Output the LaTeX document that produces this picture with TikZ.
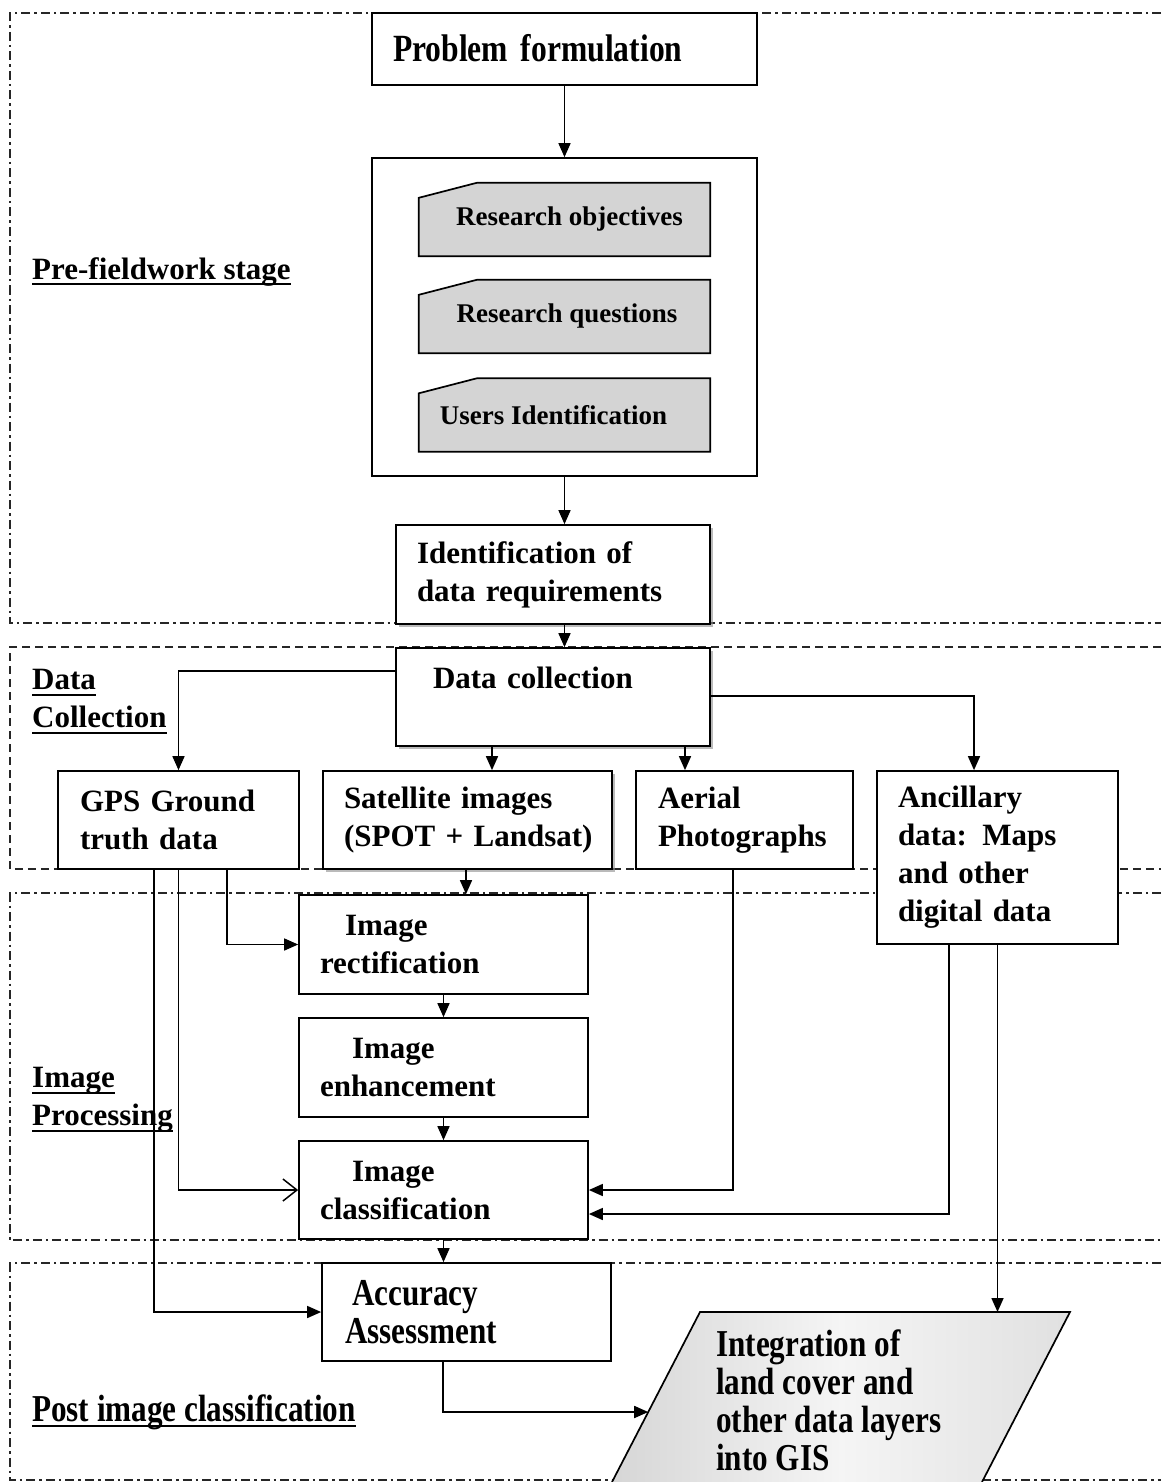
\documentclass[tikz,border=0pt]{standalone}
\usepackage{fontspec}
\setmainfont{Liberation Serif}
\newfontfamily\condfont[FakeStretch=0.82]{Liberation Serif}
\usetikzlibrary{arrows.meta,calc,backgrounds,shadows}
\hyphenpenalty=10000
\newsavebox\ulbox
\newcommand{\myul}[1]{\sbox\ulbox{#1}\rlap{\rule[-6pt]{\wd\ulbox}{2pt}}\usebox\ulbox}
\tikzset{
  frameDD/.style={line width=1.1pt, dash pattern=on 9pt off 4pt on 2.5pt off 4pt, draw=black!85},
  frameDS/.style={line width=1.1pt, dash pattern=on 8pt off 5pt, draw=black!85},
  txt/.style={font=\bfseries\fontsize{31}{38}\selectfont},
  cond/.style={font=\condfont\bfseries\fontsize{38}{38}\selectfont},
  box/.style={draw, line width=1.7pt, fill=white, rectangle, inner sep=0pt, align=left, txt},
  shad/.style={drop shadow={shadow xshift=3pt, shadow yshift=-3pt, fill=black!45, opacity=0.6}},
  card/.style={rectangle, inner sep=0pt, minimum width=291pt, minimum height=73pt, font=\bfseries\fontsize{27}{30}\selectfont},
  cardshape/.style={draw, line width=1.7pt, fill=black!17},
  conn/.style={line width=1.6pt, -{Triangle[length=14pt,width=12pt]}},
  openconn/.style={line width=1.6pt, -{Straight Barb[length=14pt,width=22pt,line width=1.5pt]}},
  lbl/.style={inner sep=0pt, align=left, txt},
}
\begin{document}
\begin{tikzpicture}[x=1pt,y=-1pt]
\useasboundingbox (0,0) rectangle (1161,1482);
\begin{scope}[on background layer]
\fill[white] (0,0) rectangle (1161,1482);
\end{scope}
% stage frames
\draw[frameDD] (1161,13) -- (10,13) -- (10,623) -- (1161,623);
\draw[frameDS] (1161,647) -- (10,647) -- (10,869) -- (1161,869);
\draw[frameDD] (1161,893) -- (10,893) -- (10,1240) -- (1161,1240);
\draw[frameDD] (1161,1263) -- (10,1263) -- (10,1480) -- (1161,1480);

% stage labels
\node[lbl, anchor=base west] (lpre) at (32,279) {\myul{Pre-fieldwork stage}};
\node[lbl, anchor=north west] (ldc) at (32,669) {\myul{Data}\\\myul{Collection}};
\node[lbl, anchor=north west] (lip) at (32,1067) {\myul{Image}\\\myul{Processing}};
\node[lbl, cond, anchor=base west] (lpost) at (32,1421) {\myul{Post image classification}};

% pre-fieldwork
\node[box, font=\condfont\bfseries\fontsize{38.5}{38}\selectfont, minimum width=385pt, minimum height=72pt, text width=343pt] (prob) at (564.5,49) {\raisebox{3pt}{Problem formulation}};
\node[box, fill=none, minimum width=385pt, minimum height=318pt] (cont) at (564.5,317) {};
\node[card] (ro) at (564.5,219.5) {\hspace*{10pt}\raisebox{-3pt}{Research objectives}};
\node[card] (rq) at (564.5,316.5) {\hspace*{5pt}\raisebox{-3pt}{Research questions}};
\node[card] (ui) at (564.5,415) {\hspace*{-22pt}\raisebox{-3pt}{Users Identification}};
\begin{scope}[on background layer]
\foreach \c in {ro,rq,ui}{
  \draw[cardshape] ([yshift=-15pt]\c.north west) -- ([xshift=58pt]\c.north west) -- (\c.north east) -- (\c.south east) -- (\c.south west) -- cycle;
}
\end{scope}
\node[box, shad, minimum width=314pt, minimum height=99pt, text width=272pt] (idr) at (553,574.5) {\mbox{Identification of}\\\mbox{data requirements}};

% data collection
\node[box, shad, minimum width=314pt, minimum height=98pt, text width=240pt] (dc) at (553,697) {\mbox{Data collection}\\\mbox{}};
\node[box, minimum width=241pt, minimum height=98pt, text width=197pt] (gps) at (178.5,820) {\mbox{GPS Ground}\\\mbox{truth data}};
\node[box, shad, minimum width=289pt, minimum height=98pt, text width=247pt] (sat) at (467.5,820) {\mbox{Satellite images}\\\mbox{(SPOT + Landsat)}};
\node[box, minimum width=217pt, minimum height=98pt, text width=173pt] (aer) at (744.5,820) {\mbox{Aerial}\\\mbox{Photographs}};
\node[box, minimum width=241pt, minimum height=173pt, text width=199pt] (anc) at (997.5,857.5) {\mbox{Ancillary}\\\mbox{data: Maps}\\\mbox{and other}\\\mbox{digital data}};

% image processing
\node[box, minimum width=289pt, minimum height=99pt, text width=247pt] (rect) at (443.5,944.5) {\hspace*{25pt}Image\\rectification};
\node[box, minimum width=289pt, minimum height=99pt, text width=247pt] (enh) at (443.5,1067.5) {\hspace*{32pt}Image\\enhancement};
\node[box, minimum width=289pt, minimum height=98pt, text width=247pt] (cls) at (443.5,1190) {\hspace*{32pt}Image\\classification};

% post classification
\node[box, cond, minimum width=289pt, minimum height=98pt, text width=243pt] (acc) at (466.5,1312) {\hspace*{7pt}Accuracy\\Assessment};
\coordinate (gisA) at (700,1312);
\coordinate (gisB) at (1070,1312);
\coordinate (gisC) at (982,1482);
\coordinate (gisD) at (612,1482);
\shade[left color=black!16, right color=black!12, middle color=black!4] (gisA) -- (gisB) -- (gisC) -- (gisD) -- cycle;
\draw[line width=1.7pt] (gisD) -- (gisA) -- (gisB) -- (gisC);
\node[lbl, cond, anchor=west] (gis) at (716,1400) {Integration of\\land cover and\\other data layers\\into GIS};
\coordinate (gisL) at ($(gisA)!{100/170}!(gisD)$);

% connectors
\draw[conn] (prob) -- (cont);
\draw[conn] (cont.south) -- (cont.south |- idr.north);
\draw[conn] (cont.south |- idr.south) -- (cont.south |- dc.north);
\draw[conn] ([yshift=-24pt]dc.north west) -| (gps.north);
\draw[conn] ([xshift=-61pt]dc.south) -- ([xshift=-61pt]dc.south |- sat.north);
\draw[conn] ([xshift=132pt]dc.south) -- ([xshift=132pt]dc.south |- aer.north);
\draw[conn] ([yshift=-49pt]dc.north east) -| ([xshift=-23.5pt]anc.north);
\draw[conn] ([xshift=-1.5pt]sat.south) -- ([xshift=-1.5pt]sat.south |- rect.north);
\draw[conn] (rect) -- (enh);
\draw[conn] (enh) -- (cls);
\draw[conn] (cls.south) -- (cls.south |- acc.north);
\draw[conn] ([xshift=48.5pt]gps.south) |- (rect.west);
\draw[openconn] (gps.south) |- (cls.west);
\draw[conn] ([xshift=-24.5pt]gps.south) |- (acc.west);
\draw[conn] ([xshift=-11.5pt]aer.south) |- (cls.east);
\draw[conn] ([xshift=-48.5pt]anc.south) |- ([yshift=-24pt]cls.east);
\draw[conn] (anc.south) -- (anc.south |- gisA);
\draw[conn] ([xshift=-23.5pt]acc.south) |- (gisL);
\end{tikzpicture}
\end{document}
